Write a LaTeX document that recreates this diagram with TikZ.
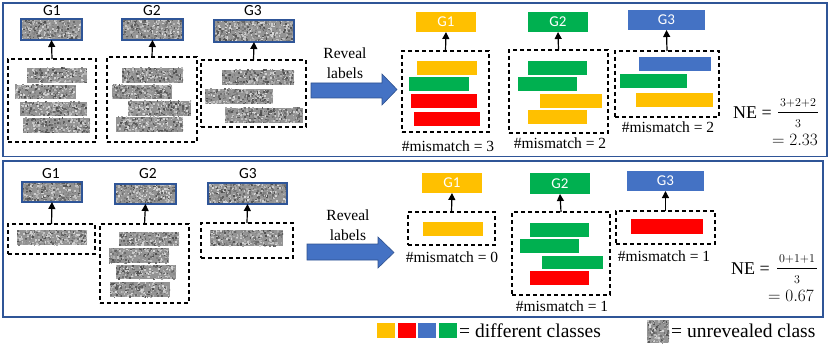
\documentclass[tikz,border=0pt]{standalone}
\usepackage{fontspec}
\setmainfont{Liberation Serif}
\newfontfamily\tnr{Liberation Serif}
\newfontfamily\carlito{Carlito}
\usetikzlibrary{arrows.meta}
\definecolor{cyel}{HTML}{FFC000}
\definecolor{cred}{HTML}{FF0000}
\definecolor{cblu}{HTML}{4472C4}
\definecolor{cgrn}{HTML}{00B050}
\definecolor{cdark}{HTML}{2F5597}
\definecolor{carrowline}{HTML}{2F528F}
\newcommand\grainfill{%
  \pgfpointanchor{path picture bounding box}{south west}\pgfgetlastxy\gswx\gswy
  \pgfpointanchor{path picture bounding box}{north east}\pgfgetlastxy\gnex\gney
  \pgfmathsetmacro\gw{(\gnex)-(\gswx)}%
  \pgfmathsetmacro\gh{(\gney)-(\gswy)}%
  \pgfmathtruncatemacro\gn{abs(\gw*\gh)/3.5}%
  \foreach \k in {1,...,\gn}{%
    \pgfmathsetmacro\gx{(\gswx)+rnd*\gw-0.8}%
    \pgfmathsetmacro\gy{(\gswy)+rnd*\gh-0.8}%
    \pgfmathtruncatemacro\gs{15+rnd*55}%
    \fill[black!\gs] (\gx pt,\gy pt) rectangle +(1.7pt,1.7pt);%
  }%
}
\newcommand\rbox[7]{%
  \pgfmathsetmacro\rw{#5-#3}\pgfmathsetmacro\rh{#6-#4}%
  \pgfmathsetmacro\rcx{(#3+#5)/2}\pgfmathsetmacro\rcy{(#4+#6)/2}%
  \node[#2, minimum width=\rw pt, minimum height=\rh pt] (#1) at (\rcx,\rcy) {#7};}
\begin{document}
\begin{tikzpicture}[x=1pt,y=-1pt,
  panel/.style={draw=cdark, line width=1.4pt, inner sep=0pt, outer sep=0pt},
  dbox/.style={draw=black, line width=1.4pt, dash pattern=on 4pt off 3pt, inner sep=0pt, outer sep=0pt},
  gbar/.style={fill=black!42, inner sep=0pt, outer sep=0pt, path picture={\grainfill}},
  gbox/.style={gbar, draw=cdark, line width=1.3pt},
  cbar/.style={fill=#1, inner sep=0pt, outer sep=0pt},
  cbox/.style={fill=#1, inner sep=0pt, outer sep=0pt, text=white, font=\carlito\fontsize{15}{18}\selectfont},
  glabel/.style={font=\carlito\fontsize{15.5}{18}\selectfont, inner sep=0pt},
  mism/.style={font=\tnr\fontsize{15.5}{18}\selectfont, inner sep=0pt},
  revtext/.style={font=\tnr\fontsize{15.5}{20}\selectfont, align=center, inner sep=0pt},
  netext/.style={font=\tnr\fontsize{18}{22}\selectfont, inner sep=0pt},
  legtext/.style={font=\tnr\fontsize{19.5}{22}\selectfont, inner sep=0pt},
  up/.style={-{Triangle[length=7pt,width=7pt]}, line width=1.2pt},
  bigarrow/.style={fill=cblu, draw=carrowline, line width=0.6pt}]
\useasboundingbox (0,0) rectangle (831,345);
\pgfmathsetseed{7}
% panels
\rbox{p1}{panel}{3}{3}{827}{156.5}{}
\rbox{p2}{panel}{3}{161}{823}{317}{}

% ===== top panel: unrevealed =====
\node[glabel] (tl1) at (52,11) {G1};
\node[glabel] (tl2) at (152,11) {G2};
\node[glabel] (tl3) at (253,11) {G3};
\rbox{tg1}{gbox}{21}{19}{82}{40}{}
\rbox{tg2}{gbox}{122}{19}{183}{40}{}
\rbox{tg3}{gbox}{214}{20}{294}{42}{}
\rbox{td1}{dbox}{8}{59}{96}{142}{}
\rbox{td2}{dbox}{107}{57}{197}{142}{}
\rbox{td3}{dbox}{201}{60}{306}{127}{}
\rbox{ta1}{gbar}{27}{68}{87}{83}{}
\rbox{ta2}{gbar}{15}{85}{76}{99}{}
\rbox{ta3}{gbar}{20}{102}{87}{116}{}
\rbox{ta4}{gbar}{23}{118}{90}{133}{}
\rbox{tb1}{gbar}{122}{68}{183}{83}{}
\rbox{tb2}{gbar}{112}{85}{172}{99}{}
\rbox{tb3}{gbar}{128}{101}{191}{116}{}
\rbox{tb4}{gbar}{116}{117}{183}{132}{}
\rbox{tc1}{gbar}{222}{70}{294}{85}{}
\rbox{tc2}{gbar}{205}{89}{273}{104}{}
\rbox{tc3}{gbar}{225}{108}{303}{123}{}
\draw[up] (td1.north) -- (tg1.south);
\draw[up] (td2.north) -- (tg2.south);
\draw[up] (td3.north) -- (tg3.south);

\node[revtext] (rev1) at (345,63) {Reveal\\labels};
\filldraw[bigarrow] (311,83) -- (382,83) -- (382,74) -- (397,89.5) -- (382,105) -- (382,98) -- (311,98) -- cycle;

% ===== top panel: revealed =====
\rbox{tk1}{cbox=cyel}{416}{12}{476}{32}{G1}
\rbox{tk2}{cbox=cgrn}{528}{12}{588}{32}{G2}
\rbox{tk3}{cbox=cblu}{628}{10}{705}{30}{G3}
\rbox{te1}{dbox}{402}{51}{489}{132}{}
\rbox{te2}{dbox}{509}{50}{608}{133}{}
\rbox{te3}{dbox}{615}{51}{719}{117}{}
\rbox{tu1}{cbar=cyel}{417}{61}{477}{75}{}
\rbox{tu2}{cbar=cgrn}{409}{77}{469}{91}{}
\rbox{tu3}{cbar=cred}{411}{94}{477}{108}{}
\rbox{tu4}{cbar=cred}{414}{112}{480}{126}{}
\rbox{tv1}{cbar=cgrn}{528}{61}{587}{75}{}
\rbox{tv2}{cbar=cgrn}{518}{77}{577}{91}{}
\rbox{tv3}{cbar=cyel}{540}{94}{602}{108}{}
\rbox{tv4}{cbar=cyel}{528}{110}{587}{124}{}
\rbox{tw1}{cbar=cblu}{639}{57}{711}{71}{}
\rbox{tw2}{cbar=cgrn}{620}{74}{687}{88}{}
\rbox{tw3}{cbar=cyel}{636}{93}{713}{107}{}
\draw[up] (te1.north) -- (tk1.south);
\draw[up] (te2.north) -- (tk2.south);
\draw[up] (te3.north) -- (tk3.south);
\node[mism] (tm1) at (448,146) {\#mismatch = 3};
\node[mism] (tm2) at (560,143) {\#mismatch = 2};
\node[mism] (tm3) at (668,127) {\#mismatch = 2};

\node[netext, anchor=east] (ne1) at (772,113) {NE =};
\node[inner sep=0pt] (fr1) at (798,112.6) {\fontsize{12}{20}\selectfont\setlength\arrayrulewidth{1.2pt}\setlength\tabcolsep{2pt}\begin{tabular}{c}$3{+}2{+}2$\\\hline$3$\end{tabular}};
\node[netext, anchor=east, font=\tnr\fontsize{19}{22}\selectfont] (res1) at (818,140) {$=2.33$};

% ===== bottom panel: unrevealed =====
\node[glabel] (bl1) at (51,174) {G1};
\node[glabel] (bl2) at (148,174) {G2};
\node[glabel] (bl3) at (248,174) {G3};
\rbox{bg1}{gbox}{22}{182}{82}{202}{}
\rbox{bg2}{gbox}{115}{184}{176}{204}{}
\rbox{bg3}{gbox}{208}{183}{287}{204}{}
\rbox{bd1}{dbox}{8}{224}{95}{254}{}
\rbox{bd2}{dbox}{100}{224}{189}{303}{}
\rbox{bd3}{dbox}{201}{223}{293}{258}{}
\rbox{ba1}{gbar}{17}{230}{87}{245}{}
\rbox{bb1}{gbar}{119}{232}{179}{246}{}
\rbox{bb2}{gbar}{109}{248}{169}{263}{}
\rbox{bb3}{gbar}{116}{265}{176}{279}{}
\rbox{bb4}{gbar}{110}{282}{170}{297}{}
\rbox{bc1}{gbar}{210}{230}{283}{246}{}
\draw[up] (bd1.north) -- (bg1.south);
\draw[up] (bd2.north) -- (bg2.south);
\draw[up] (bd3.north) -- (bg3.south);

\node[revtext] (rev2) at (348,225) {Reveal\\labels};
\filldraw[bigarrow] (307,244) -- (378,244) -- (378,237) -- (394,252.5) -- (378,268) -- (378,260) -- (307,260) -- cycle;

% ===== bottom panel: revealed =====
\rbox{bk1}{cbox=cyel}{422}{173}{482}{193}{G1}
\rbox{bk2}{cbox=cgrn}{530}{173}{590}{194}{G2}
\rbox{bk3}{cbox=cblu}{627}{171}{704}{191}{G3}
\rbox{be1}{dbox}{408}{212}{495}{245}{}
\rbox{be2}{dbox}{512}{212}{610}{295}{}
\rbox{be3}{dbox}{616}{211}{715}{244}{}
\rbox{bu1}{cbar=cyel}{423}{222}{483}{236}{}
\rbox{bv1}{cbar=cgrn}{530}{223}{589}{237}{}
\rbox{bv2}{cbar=cgrn}{520}{239}{579}{253}{}
\rbox{bv3}{cbar=cgrn}{542}{256}{603}{269}{}
\rbox{bv4}{cbar=cred}{530}{271}{589}{285}{}
\rbox{bw1}{cbar=cred}{631}{219}{703}{234}{}
\draw[up] (be1.north) -- (bk1.south);
\draw[up] (be2.north) -- (bk2.south);
\draw[up] (be3.north) -- (bk3.south);
\node[mism] (bm1) at (452,257) {\#mismatch = 0};
\node[mism] (bm2) at (562,306) {\#mismatch = 1};
\node[mism] (bm3) at (664,256) {\#mismatch = 1};

\node[netext, anchor=east] (ne2) at (770,269) {NE =};
\node[inner sep=0pt] (fr2) at (797,268.6) {\fontsize{12}{20}\selectfont\setlength\arrayrulewidth{1.2pt}\setlength\tabcolsep{2pt}\begin{tabular}{c}$0{+}1{+}1$\\\hline$3$\end{tabular}};
\node[netext, anchor=east, font=\tnr\fontsize{19}{22}\selectfont] (res2) at (814,296) {$=0.67$};

% ===== legend =====
\rbox{lg1}{cbar=cyel}{377}{323}{395}{338}{}
\rbox{lg2}{cbar=cred}{398}{323}{416}{338}{}
\rbox{lg3}{cbar=cblu}{418}{323}{436}{338}{}
\rbox{lg4}{cbar=cgrn}{439}{323}{457}{338}{}
\node[legtext, anchor=west] (lt1) at (459,330.5) {= different classes};
\rbox{lg5}{gbar}{647}{320}{669}{343}{}
\node[legtext, anchor=west] (lt2) at (671,330.5) {= unrevealed class};
\end{tikzpicture}
\end{document}
